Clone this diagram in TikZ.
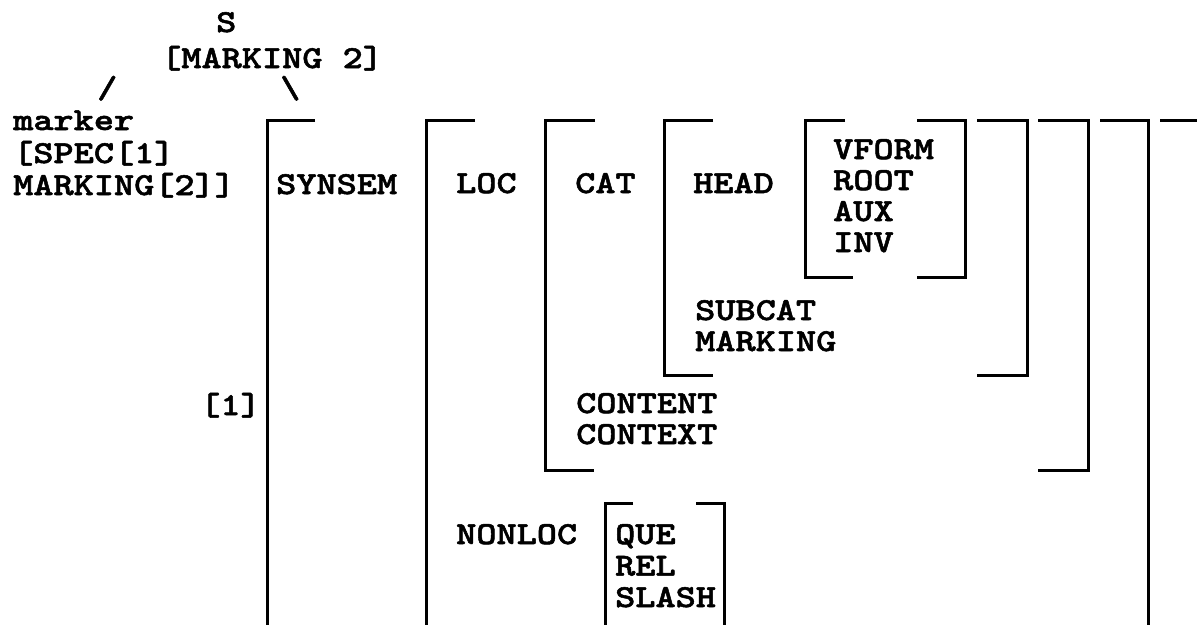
\documentclass[tikz,border=0pt]{standalone}
\usepackage{fontspec}
\newfontfamily\avmfont{lmmonolt10-bold.otf}[FakeStretch=1.2,FakeBold=1.6]
\usepackage{tikz}

\begin{document}
\begin{tikzpicture}[x=1pt,y=-1pt,
    every node/.style={font=\avmfont\fontsize{32}{32}\selectfont, inner sep=0pt, anchor=base west},
    brk/.style={line width=3pt}]
  \useasboundingbox (0,0) rectangle (1197,625);

  % tree on top
  \node (s) at (216,32) {S};
  \node (smark) at (161,68) {[MARKING 2]};
  \node (lbranch) at (97,98) {/};
  \node (rbranch) at (280,98) {\textbackslash};
  \node (marker) at (13,130) {marker};
  \node (spec) at (13,163) {[SPEC[1]};
  \node (mmark) at (13,195) {MARKING[2]]};
  \node (tag) at (200,415) {[1]};

  % feature names
  \node (synsem) at (276,194) {SYNSEM};
  \node (loc) at (456,193) {LOC};
  \node (cat) at (575,193) {CAT};
  \node (head) at (693,193) {HEAD};
  \foreach \f [count=\i from 0] in {VFORM,ROOT,AUX,INV}
    \node (h-\f) at (833,159+31*\i) {\f};
  \node (subcat) at (695,320) {SUBCAT};
  \node (marking) at (695,351) {MARKING};
  \node (content) at (576,413) {CONTENT};
  \node (context) at (576,444) {CONTEXT};
  \node (nonloc) at (456,544) {NONLOC};
  \foreach \f [count=\i from 0] in {QUE,REL,SLASH}
    \node (n-\f) at (615,544+31.5*\i) {\f};

  % brackets
  \draw[brk] (315,120) -| (267,625);
  \draw[brk] (1160,120) -- (1197,120);
  \draw[brk] (475,120) -| (426,625);
  \draw[brk] (1100,120) -| (1148,625);
  \draw[brk] (595,120) -| (545,470) -- (594,470);
  \draw[brk] (1038,120) -| (1088,470) -- (1038,470);
  \draw[brk] (713,120) -| (664,375) -- (713,375);
  \draw[brk] (977,120) -| (1027,375) -- (977,375);
  \draw[brk] (845,120) -| (805,277) -- (853,277);
  \draw[brk] (917,120) -| (965,277) -- (917,277);
  \draw[brk] (633,503) -| (605,625);
  \draw[brk] (696,503) -| (724,625);
\end{tikzpicture}
\end{document}
